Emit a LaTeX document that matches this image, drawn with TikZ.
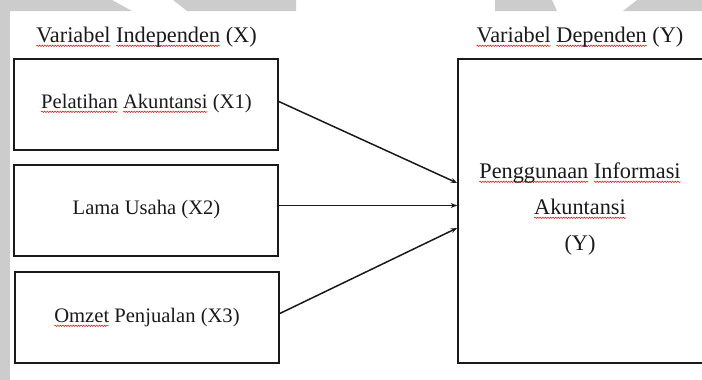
\documentclass[tikz,border=0pt]{standalone}
\usepackage{fontspec}
\setmainfont{Liberation Serif}
\usetikzlibrary{arrows.meta,decorations.pathmorphing}
\newsavebox{\sqbox}
\newlength{\sqlen}
\newcommand{\sqw}[1]{\sbox{\sqbox}{#1}\setlength{\sqlen}{\wd\sqbox}\rlap{\tikz[overlay,baseline=0pt]\draw[red,line width=0.5pt,decorate,decoration={snake,amplitude=0.7pt,segment length=2.6pt}] (0pt,-3.8pt) -- (\sqlen,-3.8pt);}\usebox{\sqbox}}
\definecolor{scan}{HTML}{CCCCCC}
\definecolor{ink}{HTML}{1A1A1A}
\tikzset{
  varbox/.style={draw=ink, line width=1.6pt, minimum width=264pt, minimum height=91pt, inner sep=0pt},
  bigbox/.style={draw=ink, line width=1.6pt, minimum width=254pt, minimum height=304pt, inner sep=0pt},
  headtxt/.style={font=\fontsize{22.3}{26}\selectfont, text=ink, inner sep=0pt, anchor=base},
  boxtxt/.style={font=\fontsize{20.6}{24}\selectfont, text=ink, inner sep=0pt, anchor=base},
  conn/.style={draw=ink, line width=1.5pt, -{Stealth[length=6.5pt,width=5pt]}}
}
\begin{document}
\begin{tikzpicture}[x=1pt,y=-1pt]
\useasboundingbox (0,0) rectangle (702,380);
\clip (0,0) rectangle (702,380);
\fill[white] (0,0) rectangle (702,380);
% scan artefacts
\fill[scan] (0,0) rectangle (10,380);
\fill[scan] (0,0) -- (112,0) -- (132,11) -- (0,11) -- cycle;
\fill[scan] (173,0) -- (296,0) -- (296,11) -- (187,11) -- cycle;
\fill[scan] (495,0) -- (552,0) -- (557,11) -- (495,11) -- cycle;
\fill[scan] (637,0) -- (702,0) -- (702,11) -- (623,11) -- cycle;
% titles
\node[headtxt] (tx) at (146.5,42) {\sqw{Variabel} \sqw{Independen} (X)};
\node[headtxt] (ty) at (580,42) {\sqw{Variabel} \sqw{Dependen} (Y)};
% boxes
\node[varbox] (b1) at (146,104.5) {};
\node[varbox] (b2) at (146,210.5) {};
\node[varbox] (b3) at (147,317.5) {};
\node[bigbox] (bY) at (585,211) {};
% box texts
\node[boxtxt] (t1) at (146.5,108) {\sqw{Pelatihan} \sqw{Akuntansi} (X1)};
\node[boxtxt] (t2) at (146.5,214) {Lama Usaha (X2)};
\node[boxtxt] (t3) at (147,322) {\sqw{Omzet} Penjualan (X3)};
\node[headtxt] (y1) at (580,178) {\sqw{Penggunaan} \sqw{Informasi}};
\node[headtxt] (y2) at (580,214) {\sqw{Akuntansi}};
\node[headtxt] (y3) at (580,250) {(Y)};
% connectors
\draw[conn] ([yshift=3pt]b1.east) -- ([yshift=28pt]bY.west);
\draw[conn] ([yshift=5pt]b2.east) -- ([yshift=5pt]b2.east -| bY.west);
\draw[conn] ([yshift=4pt]b3.east) -- ([yshift=-17pt]bY.west);
\end{tikzpicture}
\end{document}
